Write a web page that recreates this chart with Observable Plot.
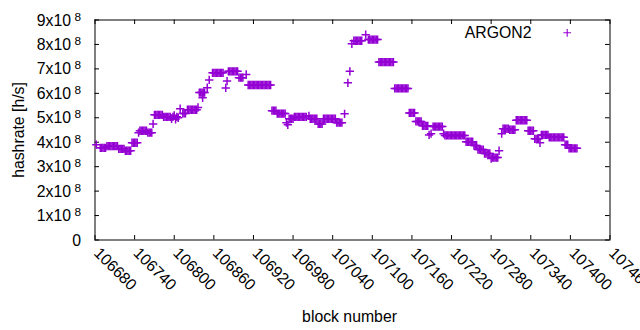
<!DOCTYPE html>
<html><head><meta charset="utf-8">
<script src="https://cdn.jsdelivr.net/npm/d3@7"></script>
<script src="https://cdn.jsdelivr.net/npm/@observablehq/plot@0.6"></script>
<style>html,body{margin:0;padding:0;background:#fff;overflow:hidden}</style>
</head><body><div id="chart"></div>
<script>
// block numbers (x) and estimated hashrate in MH/s (y)
const blocks = [
106682,
106688,106690,106692,106694,106696,
106698,106700,106702,106704,106706,106708,106710,106712,106714,
106716,106718,106720,106722,106724,
106726,106728,106730,106732,106734,
106736,106738,106740,106742,106744,
106746,
106748,106750,106752,106754,106756,106758,
106760,106762,106764,106766,
106768,
106770,106772,106774,106776,106778,106780,106782,
106784,106786,106788,106790,106792,106794,106796,106798,106800,106802,106804,106806,
106809,
106813,106815,106817,
106820,106822,106824,106826,106828,106830,106832,106834,
106836,
106838,106840,106842,106843,106844,106846,
106850,
106853,
106858,106860,106862,106864,106866,106868,106870,106872,106874,
106878,
106880,
106882,106884,106886,106888,106890,106892,106894,106896,
106898,106900,106902,106904,
106909,
106912,106914,106916,106918,106920,106922,106924,106926,106928,106930,106932,106934,106936,106938,106940,106942,106944,106946,
106948,106950,106952,106954,
106956,106958,106960,106962,106964,106966,106968,
106970,106972,
106974,106976,106978,106980,
106982,106984,106986,106988,106990,106992,106994,106996,106998,107000,
107004,
107006,107008,107010,107012,107014,107016,
107018,107020,107022,107024,
107026,107028,107030,107032,107034,107036,107038,107040,107042,107044,
107046,107048,107050,107052,107054,
107058,107063,107066,107069,
107072,107074,107076,107078,107080,107082,107084,
107090,
107094,107096,107098,107100,107102,107104,107106,107108,
107110,107112,107114,107116,107118,107120,107122,107124,107126,107128,107130,107132,
107134,107136,107138,107140,107142,107144,107146,107148,107150,107152,107154,
107156,107158,107160,107162,107164,
107166,107168,107170,107172,107174,
107176,107178,107180,107182,107184,
107186,107189,
107192,107194,107196,107198,107200,107202,107204,107206,
107208,
107210,107212,107214,107216,107218,107220,107222,107224,107226,107228,107230,107232,107234,107236,107238,107240,
107242,107244,107246,107248,107250,107252,
107254,107256,107258,
107260,107262,107264,107266,107268,
107270,107272,107274,107276,107278,
107280,
107282,107284,107286,107288,107290,
107292,107296,
107298,107300,107302,107304,107306,
107308,107310,107312,107314,107316,
107318,107320,107322,107324,107326,107328,107330,107332,107334,
107336,107338,107340,107342,107344,
107346,107348,107350,107352,107354,
107356,107358,107360,107362,107364,107366,
107368,107370,107372,107374,107376,107378,107380,107382,107384,107386,107388,107390,
107392,107394,107396,
107398,107400,107402,107404,107406,107408,107410
];
const hashrateMHs = [
390,
377,377,377,377,377,
384,384,384,384,384,384,384,384,384,
373,373,373,373,373,
365,365,365,365,365,
398,398,398,398,398,
439,
447,447,447,447,447,447,
439,439,439,439,
475,
512,512,512,512,512,512,512,
504,504,504,504,504,504,496,504,510,494,504,500,
537,
518,518,518,
533,533,533,533,533,533,533,533,
542,
603,603,603,582,603,603,
623,
655,
684,684,684,684,684,684,684,684,684,
622,
650,
690,690,690,690,690,690,690,690,
664,664,664,664,
677,
634,634,634,634,634,634,634,634,634,634,634,634,634,634,634,634,634,634,
529,529,529,529,
517,517,517,517,517,517,517,
480,471,
496,496,496,496,
504,504,504,504,504,504,504,504,504,504,
508,
496,496,496,496,496,496,
475,475,475,475,
496,496,496,496,496,496,496,496,496,496,
480,480,480,480,480,
516,643,690,803,
815,815,815,815,815,815,815,
840,
820,820,820,820,820,820,820,820,
728,728,728,728,728,728,728,728,728,728,728,728,
620,620,620,620,620,620,620,620,620,620,620,
520,520,520,520,520,
485,485,485,485,485,
467,467,467,467,467,
430,435,
464,464,464,464,464,464,464,464,
435,
428,428,428,428,428,428,428,428,428,428,428,428,428,428,428,428,
402,402,402,402,402,402,
387,387,387,
370,370,370,370,370,
354,354,354,354,354,
333,
337,337,337,337,337,
365,435,
455,455,455,455,455,
451,451,451,451,451,
490,490,490,490,490,490,490,490,490,
447,447,447,447,447,
414,414,414,414,398,
430,430,430,430,430,430,
420,420,420,420,420,420,420,420,420,420,420,420,
390,390,390,
375,375,375,375,375,375,375
];
const xTicks = [106680,106740,106800,106860,106920,106980,107040,107100,107160,107220,107280,107340,107400,107460];
const yTicks = [0,1e8,2e8,3e8,4e8,5e8,6e8,7e8,8e8,9e8];
const yTickMantissa = ["0","1x10","2x10","3x10","4x10","5x10","6x10","7x10","8x10","9x10"];
const yTickExponent = ["","8","8","8","8","8","8","8","8","8"];
const seriesName = "ARGON2";
const xLabel = "block number";
const yLabel = "hashrate [h/s]";

if (blocks.length !== hashrateMHs.length) console.error("length mismatch", blocks.length, hashrateMHs.length);
const data = blocks.map((b, i) => ({block: b, hashrate: hashrateMHs[i] * 1e6}));
const yLab = yTicks.map((v, i) => ({v, m: yTickMantissa[i], e: yTickExponent[i]}));

const font = "'Liberation Sans', Arial, sans-serif";
const color = "#9400d3";
const fs = 15.8;
const symR = 2.8;

const chart = Plot.plot({
  width: 640, height: 330,
  marginLeft: 94.5, marginRight: 30.5, marginTop: 19.5, marginBottom: 90.5,
  style: {fontFamily: font, background: "white", color: "black"},
  x: {domain: [106680, 107460], axis: null},
  y: {domain: [0, 9e8], axis: null},
  marks: [
    Plot.frame({stroke: "black", strokeWidth: 1}),
    Plot.tickX(xTicks, {x: d => d, insetTop: 215.5, stroke: "black"}),
    Plot.tickX(xTicks, {x: d => d, insetBottom: 215.5, stroke: "black"}),
    Plot.tickY(yTicks, {y: d => d, insetRight: 510.5, stroke: "black"}),
    Plot.tickY(yTicks, {y: d => d, insetLeft: 510.5, stroke: "black"}),
    Plot.text(xTicks, {x: d => d, text: d => String(d), frameAnchor: "bottom", dx: -2, dy: 14, rotate: 45,
      textAnchor: "start", lineAnchor: "bottom", fontSize: fs, fill: "black"}),
    Plot.text(yLab, {filter: d => d.v !== 0, y: "v", text: "m", frameAnchor: "left", dx: -24, dy: 5.5,
      textAnchor: "end", lineAnchor: "bottom", fontSize: fs, fill: "black"}),
    Plot.text(yLab, {filter: d => d.v === 0, y: "v", text: "m", frameAnchor: "left", dx: -14, dy: 5.5,
      textAnchor: "end", lineAnchor: "bottom", fontSize: fs, fill: "black"}),
    Plot.text(yLab, {filter: d => d.v !== 0, y: "v", text: "e", frameAnchor: "left", dx: -14, dy: 0.5,
      textAnchor: "end", lineAnchor: "bottom", fontSize: 11.8, fill: "black"}),
    Plot.text([yLabel], {text: d => d, frameAnchor: "left", dx: -71.5, rotate: -90,
      textAnchor: "middle", lineAnchor: "bottom", fontSize: fs, fill: "black"}),
    Plot.text([xLabel], {text: d => d, frameAnchor: "bottom", dx: -3, dy: 82,
      textAnchor: "middle", lineAnchor: "bottom", fontSize: fs, fill: "black"}),
    Plot.dot(data, {x: "block", y: "hashrate", symbol: "plus", r: symR, stroke: color, strokeWidth: 1.5}),
    Plot.text([seriesName], {text: d => d, frameAnchor: "top-right", dx: -78.5, dy: 17.8,
      textAnchor: "end", lineAnchor: "bottom", fontSize: fs, fill: "black"}),
    Plot.dot([seriesName], {frameAnchor: "top-right", dx: -42.8, dy: 12.8, symbol: "plus", r: 2.6, stroke: color, strokeWidth: 1.1})
  ]
});
document.getElementById("chart").appendChild(chart);
</script>
</body></html>
